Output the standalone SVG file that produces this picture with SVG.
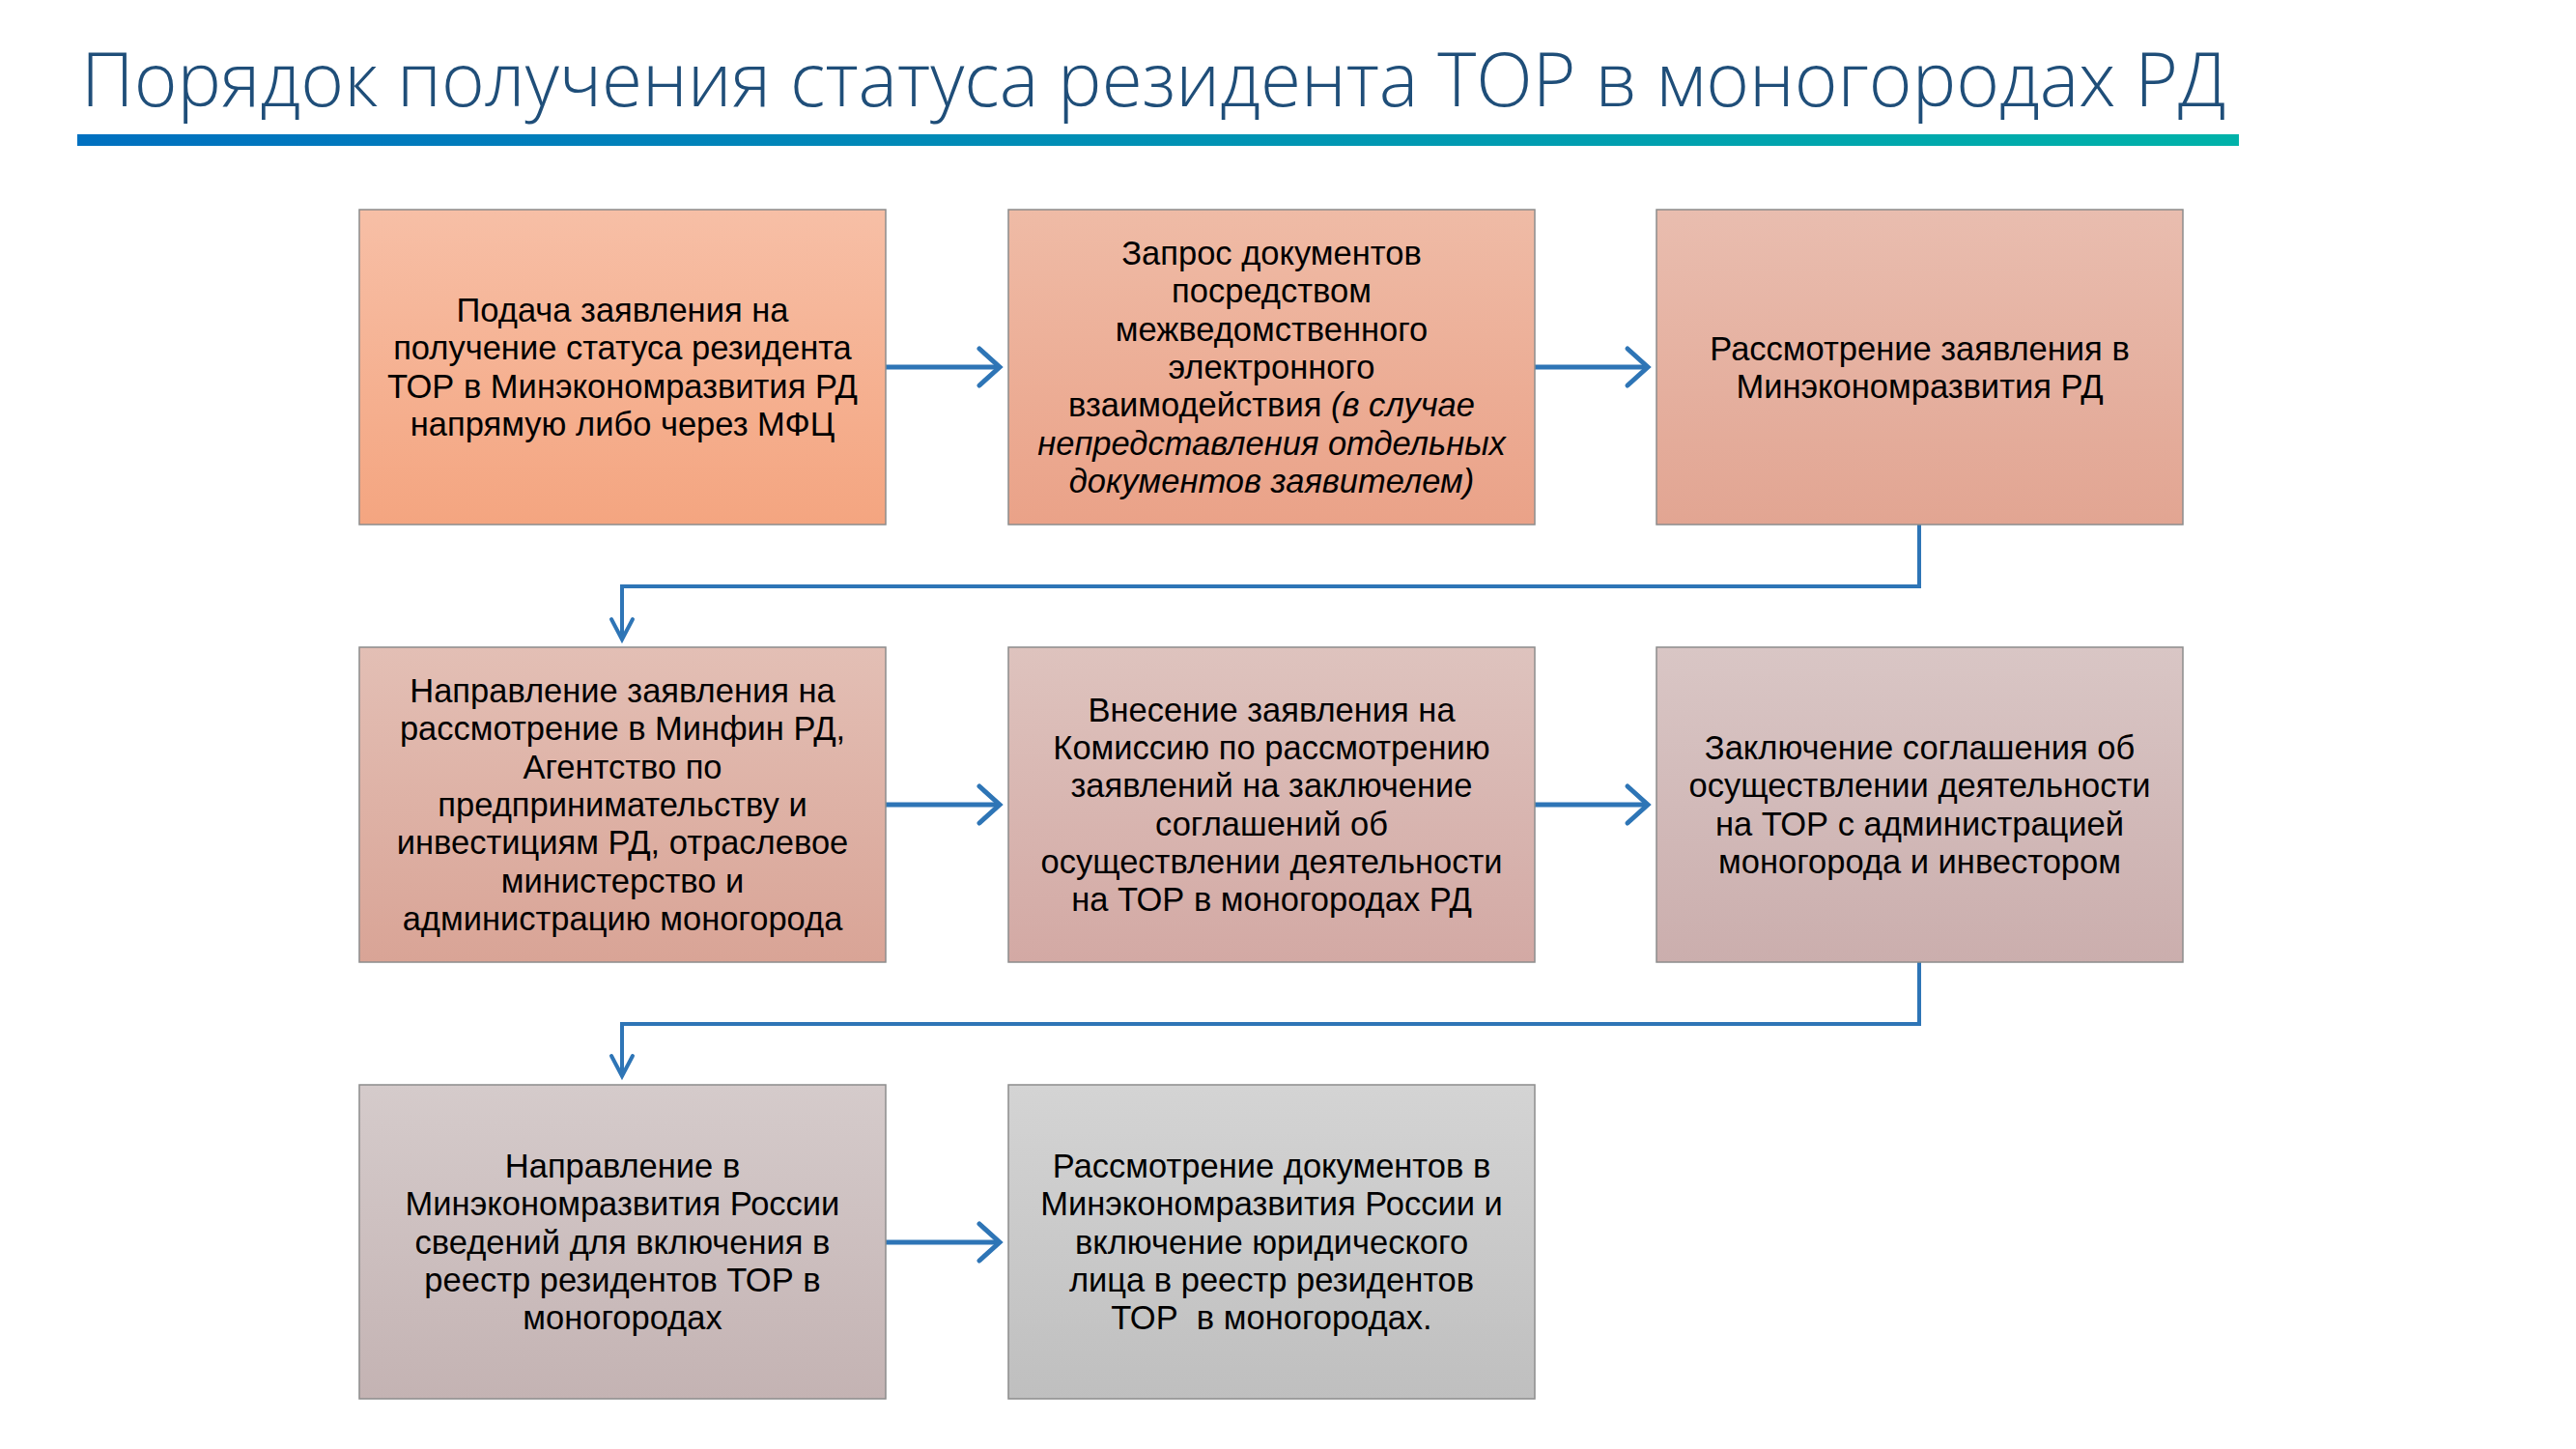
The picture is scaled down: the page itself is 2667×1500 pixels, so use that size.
<svg xmlns="http://www.w3.org/2000/svg" width="2667" height="1500" viewBox="0 0 2667 1500">
<style>
.t{font-family:"Liberation Sans","Noto Sans","DejaVu Sans",sans-serif;font-size:34.5px;fill:#000;text-anchor:middle}
.i{font-style:italic}
.title{font-family:"Open Sans","Noto Sans","DejaVu Sans",sans-serif;font-weight:300;font-size:77px;fill:#1F4E79}
.box{stroke:#8C8C8C;stroke-width:1.5}
.arr{fill:none;stroke:#2E75B6;stroke-width:5}
.elb{fill:none;stroke:#2E75B6;stroke-width:4;stroke-linejoin:miter}
</style>
<defs>
<linearGradient id="bar" x1="0" y1="0" x2="1" y2="0"><stop offset="0" stop-color="#0070C0"/><stop offset="1" stop-color="#00B2A9"/></linearGradient>
<linearGradient id="g1" x1="0" y1="0" x2="0" y2="1"><stop offset="0" stop-color="#F7BFA6"/><stop offset="1" stop-color="#F4A580"/></linearGradient>
<linearGradient id="g2" x1="0" y1="0" x2="0" y2="1"><stop offset="0" stop-color="#EFBBA6"/><stop offset="1" stop-color="#EAA288"/></linearGradient>
<linearGradient id="g3" x1="0" y1="0" x2="0" y2="1"><stop offset="0" stop-color="#E9BDAF"/><stop offset="1" stop-color="#E2A592"/></linearGradient>
<linearGradient id="g4" x1="0" y1="0" x2="0" y2="1"><stop offset="0" stop-color="#E3BFB5"/><stop offset="1" stop-color="#D9A496"/></linearGradient>
<linearGradient id="g5" x1="0" y1="0" x2="0" y2="1"><stop offset="0" stop-color="#DEC3BE"/><stop offset="1" stop-color="#D3A9A4"/></linearGradient>
<linearGradient id="g6" x1="0" y1="0" x2="0" y2="1"><stop offset="0" stop-color="#D9C6C5"/><stop offset="1" stop-color="#CBAEAD"/></linearGradient>
<linearGradient id="g7" x1="0" y1="0" x2="0" y2="1"><stop offset="0" stop-color="#D5CBCB"/><stop offset="1" stop-color="#C4B3B3"/></linearGradient>
<linearGradient id="g8" x1="0" y1="0" x2="0" y2="1"><stop offset="0" stop-color="#D4D4D4"/><stop offset="1" stop-color="#BFBFBF"/></linearGradient>
<marker id="ah" markerUnits="userSpaceOnUse" viewBox="-28 -26 34 52" markerWidth="34" markerHeight="52" refX="0" refY="0" orient="auto">
<path d="M-21,-19 L0,0 L-21,19" fill="none" stroke="#2E75B6" stroke-width="5" stroke-linecap="round"/>
</marker>
<marker id="ahd" markerUnits="userSpaceOnUse" viewBox="-28 -18 34 36" markerWidth="34" markerHeight="36" refX="0" refY="0" orient="auto">
<path d="M-21,-11 L0,0 L-21,11" fill="none" stroke="#2E75B6" stroke-width="4" stroke-linecap="round"/>
</marker>
</defs>

<g id="title">
<text class="title" x="84" y="110" textLength="2221" lengthAdjust="spacingAndGlyphs">Порядок получения статуса резидента ТОР в моногородах РД</text>
<rect x="80" y="139" width="2238" height="12" fill="url(#bar)"/>
</g>

<g id="connectors">
<path class="arr" d="M917,380 H1035" marker-end="url(#ah)"/>
<path class="arr" d="M1589,380 H1706" marker-end="url(#ah)"/>
<path class="elb" d="M1987,543 V607 H644 V662" marker-end="url(#ahd)"/>
<path class="arr" d="M917,833 H1035" marker-end="url(#ah)"/>
<path class="arr" d="M1589,833 H1706" marker-end="url(#ah)"/>
<path class="elb" d="M1987,996 V1060 H644 V1114" marker-end="url(#ahd)"/>
<path class="arr" d="M917,1286 H1035" marker-end="url(#ah)"/>
</g>

<g id="n1">
<rect class="box" x="372" y="217" width="545" height="326" fill="url(#g1)"/>
<text class="t" x="644.5" y="333">Подача заявления на</text>
<text class="t" x="644.5" y="372.3">получение статуса резидента</text>
<text class="t" x="644.5" y="411.6">ТОР в Минэкономразвития РД</text>
<text class="t" x="644.5" y="450.9">напрямую либо через МФЦ</text>
</g>

<g id="n2">
<rect class="box" x="1044" y="217" width="545" height="326" fill="url(#g2)"/>
<text class="t" x="1316.5" y="274">Запрос документов</text>
<text class="t" x="1316.5" y="313.3">посредством</text>
<text class="t" x="1316.5" y="352.6">межведомственного</text>
<text class="t" x="1316.5" y="391.9">электронного</text>
<text class="t" x="1316.5" y="431.2">взаимодействия <tspan class="i">(в случае</tspan></text>
<text class="t i" x="1316.5" y="470.5">непредставления отдельных</text>
<text class="t i" x="1316.5" y="509.8">документов заявителем)</text>
</g>

<g id="n3">
<rect class="box" x="1715" y="217" width="545" height="326" fill="url(#g3)"/>
<text class="t" x="1987.5" y="372.5">Рассмотрение заявления в</text>
<text class="t" x="1987.5" y="411.8">Минэкономразвития РД</text>
</g>

<g id="n4">
<rect class="box" x="372" y="670" width="545" height="326" fill="url(#g4)"/>
<text class="t" x="644.5" y="727">Направление заявления на</text>
<text class="t" x="644.5" y="766.3">рассмотрение в Минфин РД,</text>
<text class="t" x="644.5" y="805.6">Агентство по</text>
<text class="t" x="644.5" y="844.9">предпринимательству и</text>
<text class="t" x="644.5" y="884.2">инвестициям РД, отраслевое</text>
<text class="t" x="644.5" y="923.5">министерство и</text>
<text class="t" x="644.5" y="962.8">администрацию моногорода</text>
</g>

<g id="n5">
<rect class="box" x="1044" y="670" width="545" height="326" fill="url(#g5)"/>
<text class="t" x="1316.5" y="746.6">Внесение заявления на</text>
<text class="t" x="1316.5" y="785.9">Комиссию по рассмотрению</text>
<text class="t" x="1316.5" y="825.2">заявлений на заключение</text>
<text class="t" x="1316.5" y="864.5">соглашений об</text>
<text class="t" x="1316.5" y="903.8">осуществлении деятельности</text>
<text class="t" x="1316.5" y="943.1">на ТОР в моногородах РД</text>
</g>

<g id="n6">
<rect class="box" x="1715" y="670" width="545" height="326" fill="url(#g6)"/>
<text class="t" x="1987.5" y="786">Заключение соглашения об</text>
<text class="t" x="1987.5" y="825.3">осуществлении деятельности</text>
<text class="t" x="1987.5" y="864.6">на ТОР с администрацией</text>
<text class="t" x="1987.5" y="903.9">моногорода и инвестором</text>
</g>

<g id="n7">
<rect class="box" x="372" y="1123" width="545" height="325" fill="url(#g7)"/>
<text class="t" x="644.5" y="1219">Направление в</text>
<text class="t" x="644.5" y="1258.3">Минэкономразвития России</text>
<text class="t" x="644.5" y="1297.6">сведений для включения в</text>
<text class="t" x="644.5" y="1336.9">реестр резидентов ТОР в</text>
<text class="t" x="644.5" y="1376.2">моногородах</text>
</g>

<g id="n8">
<rect class="box" x="1044" y="1123" width="545" height="325" fill="url(#g8)"/>
<text class="t" x="1316.5" y="1219">Рассмотрение документов в</text>
<text class="t" x="1316.5" y="1258.3">Минэкономразвития России и</text>
<text class="t" x="1316.5" y="1297.6">включение юридического</text>
<text class="t" x="1316.5" y="1336.9">лица в реестр резидентов</text>
<text class="t" x="1316.5" y="1376.2" xml:space="preserve">ТОР  в моногородах.</text>
</g>
</svg>
